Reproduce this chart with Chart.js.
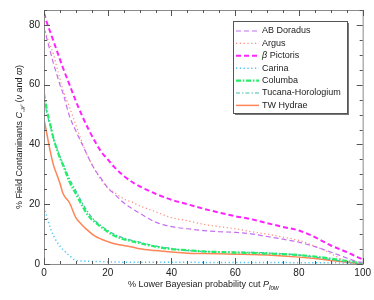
<!DOCTYPE html>
<html>
<head>
<meta charset="utf-8">
<script src="https://cdn.jsdelivr.net/npm/chart.js@4.4.0/dist/chart.umd.min.js"></script>
<style>
  html, body { margin: 0; background: #fff; }
  #wrap { width: 374px; height: 300px; }
</style>
</head>
<body>
<div id="wrap"><canvas id="chart"></canvas></div>
<script>
// lower Bayesian probability cut (%)
const cuts = [0, 1, 2, 3, 4, 5, 6, 8, 10, 12, 14, 16, 18, 20, 22, 25, 28, 30, 35, 40, 45, 50, 55, 60, 65, 70, 75, 80, 85, 90, 95, 98, 100];

// % field contaminants per association
const abDor    = [79, 75, 71, 67, 63.5, 60, 57, 49.5, 44.5, 40, 35.5, 31.5, 28.5, 25.5, 23.5, 20.5, 18.3, 17, 14, 12.5, 11.8, 11.2, 10.8, 10.6, 10.1, 9.2, 8.3, 7.3, 5.8, 4, 2, 0.9, 0.5];
const argus    = [79, 76, 73, 70, 66, 62, 58, 52.5, 46.5, 40.5, 35.5, 31.5, 28, 25.5, 24, 21.8, 20.5, 19.5, 17.5, 15.5, 14.5, 13.3, 12.5, 11.8, 10.8, 10, 9, 7.9, 6, 3.5, 0.8, 0.2, 0];
const betaPic  = [84, 80.5, 77.5, 74.5, 71.5, 68.5, 65.5, 60, 54.5, 49.5, 45, 41, 37.5, 35, 32.5, 29.5, 27.2, 26, 23.5, 21.5, 20, 18.5, 17.2, 16, 15, 13.7, 12.4, 11.2, 9, 6.2, 4, 2.5, 1.5];
const carina   = [19, 15.5, 12, 9.5, 7.5, 6, 4.8, 2.8, 1.2, 1, 0.9, 0.8, 0.8, 0.7, 0.7, 0.6, 0.6, 0.6, 0.6, 0.6, 0.6, 0.5, 0.5, 0.5, 0.5, 0.5, 0.5, 0.4, 0.4, 0.4, 0.3, 0.2, 0.1];
const columba  = [57, 51, 46.5, 42, 38.5, 35.5, 33, 27.5, 23.5, 19.5, 16, 14, 12.3, 10.8, 9.5, 8.3, 7.5, 7, 5.8, 5, 4.6, 4.2, 4, 3.8, 3.7, 3.5, 3.3, 3, 2.5, 1.8, 1, 0.5, 0.3];
const tucHor   = [55, 50, 46, 42, 39, 36, 33.5, 28.5, 24.5, 20.5, 17, 14.5, 12.8, 11.2, 10, 8.7, 7.8, 7.3, 6, 5.2, 4.5, 4.2, 4.1, 4, 3.9, 3.7, 3.4, 3, 2.3, 1.5, 0.7, 0.3, 0.2];
const twHya    = [48.5, 43, 37.5, 33, 30, 27, 23.5, 20.5, 15.5, 13, 11, 9.3, 8.3, 7.5, 6.8, 6.2, 5.6, 5.1, 4.5, 4, 3.6, 3.5, 3.4, 3.3, 3.2, 3, 2.7, 2.3, 1.8, 1.2, 0.6, 0.2, 0];

const seriesNames = ['AB Doradus', 'Argus', 'β Pictoris', 'Carina', 'Columba', 'Tucana-Horologium', 'TW Hydrae'];
const xTicks = [0, 20, 40, 60, 80, 100];
const yTicks = [0, 20, 40, 60, 80];

const styles = [
  { color: '#c46ef0', width: 1.2, dash: [5, 3] },
  { color: '#ff8a7a', width: 1.2, dash: [1.2, 2.6] },
  { color: '#ff22ff', width: 2, dash: [5, 3] },
  { color: '#44c4f4', width: 1.5, dash: [1.2, 2.6] },
  { color: '#22ee66', width: 2.2, dash: [5, 1.8, 1.5, 1.8] },
  { color: '#3cbfb0', width: 1.2, dash: [4, 2, 1.5, 2] },
  { color: '#ff8456', width: 1.5, dash: [] }
];
const values = [abDor, argus, betaPic, carina, columba, tucHor, twHya];

const datasets = values.map((v, i) => ({
  label: seriesNames[i],
  data: cuts.map((c, j) => ({ x: c, y: v[j] })),
  borderColor: styles[i].color,
  borderWidth: styles[i].width,
  borderDash: styles[i].dash,
  pointRadius: 0,
  cubicInterpolationMode: 'monotone',
  fill: false
}));

const FONT = '"Liberation Sans", Arial, sans-serif';

function drawPieces(ctx, pieces, x, y) {
  // pieces: [{t, size, italic, dy}]
  let w = 0;
  pieces.forEach(p => {
    ctx.font = (p.italic ? 'italic ' : '') + p.size + 'px ' + FONT;
    p.w = ctx.measureText(p.t).width;
    w += p.w;
  });
  let cx = x - w / 2;
  pieces.forEach(p => {
    ctx.font = (p.italic ? 'italic ' : '') + p.size + 'px ' + FONT;
    ctx.fillText(p.t, cx, y + (p.dy || 0));
    cx += p.w;
  });
}

const framePlugin = {
  id: 'frame',
  afterDraw(chart) {
    const ctx = chart.ctx;
    const a = chart.chartArea;
    const xs = chart.scales.x, ys = chart.scales.y;
    ctx.save();
    ctx.strokeStyle = '#8a8a8a';
    ctx.lineWidth = 1;
    ctx.strokeRect(a.left + 0.5, a.top + 0.5, a.right - a.left, a.bottom - a.top);

    ctx.strokeStyle = '#555';
    ctx.beginPath();
    for (let v = 0; v <= 100; v += 5) {
      const len = v % 20 === 0 ? 6 : 3;
      const px = Math.round(xs.getPixelForValue(v)) + 0.5;
      ctx.moveTo(px, a.bottom); ctx.lineTo(px, a.bottom - len);
      ctx.moveTo(px, a.top); ctx.lineTo(px, a.top + len);
    }
    for (let v = 0; v <= 85; v += 5) {
      const len = v % 20 === 0 ? 6 : 3;
      const py = Math.round(ys.getPixelForValue(v)) + 0.5;
      ctx.moveTo(a.left, py); ctx.lineTo(a.left + len, py);
      ctx.moveTo(a.right, py); ctx.lineTo(a.right - len, py);
    }
    ctx.stroke();

    // axis titles
    ctx.fillStyle = '#222';
    ctx.textBaseline = 'alphabetic';
    drawPieces(ctx, [
      { t: '% Lower Bayesian probability cut ', size: 9 },
      { t: 'P', size: 9, italic: true },
      { t: 'low', size: 6.5, italic: true, dy: 2.5 }
    ], (a.left + a.right) / 2, 287);

    ctx.save();
    ctx.translate(22, (a.top + a.bottom) / 2);
    ctx.rotate(-Math.PI / 2);
    drawPieces(ctx, [
      { t: '% Field Contaminants ', size: 9 },
      { t: 'C', size: 9, italic: true },
      { t: 'ℋ', size: 6.5, italic: true, dy: 2.5 },
      { t: ' (', size: 9 },
      { t: 'ν', size: 9, italic: true },
      { t: ' and ', size: 9 },
      { t: 'ϖ', size: 9, italic: true },
      { t: ')', size: 9 }
    ], 0, 0);
    ctx.restore();

    // legend inside the plot
    const lx = 233, ly = 21, lw = 114, lh = 92;
    ctx.fillStyle = '#777';
    ctx.fillRect(lx + 2, ly + 2, lw, lh);
    ctx.fillStyle = '#fff';
    ctx.fillRect(lx, ly, lw, lh);
    ctx.strokeStyle = '#555';
    ctx.strokeRect(lx + 0.5, ly + 0.5, lw, lh);
    chart.data.datasets.forEach((ds, i) => {
      const y = ly + 10 + i * 12.4;
      ctx.strokeStyle = ds.borderColor;
      ctx.lineWidth = ds.borderWidth;
      ctx.setLineDash(ds.borderDash);
      ctx.beginPath();
      ctx.moveTo(lx + 3, y); ctx.lineTo(lx + 26, y);
      ctx.stroke();
      ctx.setLineDash([]);
      ctx.fillStyle = '#222';
      ctx.textBaseline = 'middle';
      let tx = lx + 29;
      if (ds.label.startsWith('β')) {
        ctx.font = 'italic 9px ' + FONT;
        ctx.fillText('β', tx, y);
        tx += ctx.measureText('β').width;
        ctx.font = '9px ' + FONT;
        ctx.fillText(ds.label.slice(1), tx, y);
      } else {
        ctx.font = '9px ' + FONT;
        ctx.fillText(ds.label, tx, y);
      }
    });
    ctx.restore();
  }
};

new Chart(document.getElementById('chart'), {
  type: 'line',
  data: { datasets },
  options: {
    responsive: true,
    maintainAspectRatio: false,
    animation: false,
    layout: { padding: { top: 6, right: 10, left: 0, bottom: 0 } },
    plugins: { legend: { display: false }, tooltip: { enabled: false } },
    scales: {
      x: {
        type: 'linear',
        min: 0, max: 100,
        afterBuildTicks: s => { s.ticks = xTicks.map(v => ({ value: v })); },
        afterFit: s => { s.height = 36; },
        grid: { display: false, drawTicks: false },
        border: { display: false },
        ticks: { padding: 3, color: '#222', font: { family: FONT, size: 10 } }
      },
      y: {
        min: 0, max: 85,
        afterBuildTicks: s => { s.ticks = yTicks.map(v => ({ value: v })); },
        afterFit: s => { s.width = 44; },
        grid: { display: false, drawTicks: false },
        border: { display: false },
        ticks: { padding: 4, color: '#222', font: { family: FONT, size: 10 } }
      }
    }
  },
  plugins: [framePlugin]
});
</script>
</body>
</html>
